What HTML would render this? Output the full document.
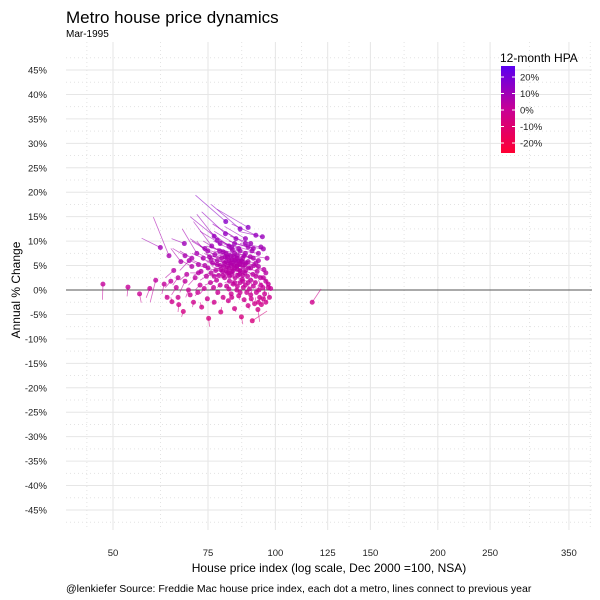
<!DOCTYPE html>
<html><head><meta charset="utf-8"><style>
body{margin:0;background:#fff;}
svg{display:block;font-family:"Liberation Sans",sans-serif;}
</style></head><body>
<svg id="c" width="600" height="600" viewBox="0 0 600 600">
<text x="66" y="23" font-size="17" fill="#000">Metro house price dynamics</text>
<text x="66" y="37" font-size="10" fill="#000">Mar-1995</text>
<g id="grid"></g>
<g id="axes"></g>
<g id="marks"></g>
<text x="329" y="572" font-size="12" text-anchor="middle" fill="#000">House price index (log scale, Dec 2000 =100, NSA)</text>
<text x="20" y="290" font-size="12" text-anchor="middle" fill="#000" transform="rotate(-90 20 290)">Annual % Change</text>
<text x="66" y="592" font-size="10.5" fill="#000">@lenkiefer Source: Freddie Mac house price index, each dot a metro, lines connect to previous year</text>
<g id="legend">
<text x="500" y="62" font-size="12" fill="#000">12-month HPA</text>
<defs><linearGradient id="lg" x1="0" y1="0" x2="0" y2="1"><stop offset="0" stop-color="#5a00f0"/><stop offset="0.5" stop-color="#c80096"/><stop offset="1" stop-color="#ff0032"/></linearGradient></defs>
<rect x="501" y="66" width="14" height="87" fill="url(#lg)"/>
</g>
</svg>
<script>
const hpi=[47.9,53.3,56.0,58.5,60.0,61.2,62.2,63.0,63.5,64.3,64.8,65.5,66.0,66.2,66.8,67.5,67.8,68.0,68.5,69.0,69.2,69.5,70.0,70.5,71.0,71.5,71.8,72.0,72.5,72.8,73.0,73.5,73.8,74.0,74.5,74.8,75.0,75.2,75.5,75.8,76.0,76.2,76.5,76.8,77.0,77.2,77.5,77.8,78.0,78.0,78.2,78.5,78.8,79.0,79.0,79.2,79.5,79.8,80.0,80.0,80.2,80.5,80.8,80.9,81.0,81.2,81.5,81.5,81.8,82.0,82.0,82.2,82.5,82.5,82.8,83.0,83.0,83.2,83.5,83.5,83.8,84.0,84.0,84.2,84.5,84.5,84.8,85.0,85.0,85.2,85.5,85.5,85.8,86.0,86.0,86.2,86.5,86.5,86.8,87.0,87.2,87.5,87.5,87.8,88.0,88.0,88.2,88.5,88.8,89.0,89.0,89.2,89.5,89.8,90.0,90.2,90.5,90.6,90.8,91.0,91.2,91.5,91.8,92.0,92.2,92.5,92.8,93.0,93.2,93.5,93.8,94.0,94.2,94.6,94.8,95.0,95.2,95.5,96.0,96.5,97.0,97.5,98.0,117.0,80.5,81.5,82.8,83.8,84.8,85.5,86.8,82.2,85.8,79.2,87.8,80.8,
81,82,83,84,85,86,87,88,84,83,85,86,87,82,80,81,83,84,86,88,89,90,91,92,93,94,95,96,95,96,97,93,90,89,87,86,85,84,83,82,78,77,76,74,72,70,68,66,64,88,90,91,79,77,75,92,89,93];
const chg=[1.2,0.6,-0.8,0.3,2.0,8.7,1.2,-1.5,7.0,-2.4,4.0,0.5,2.5,-3.0,5.8,-4.4,9.5,1.8,3.2,0.0,6.0,-1.0,4.8,-2.5,2.5,7.5,-0.5,5.2,1.0,3.8,-3.5,6.5,0.3,8.5,2.8,-1.8,4.5,-5.8,6.8,1.5,3.5,9.0,5.5,0.5,-2.5,7.2,4.0,2.0,10.2,6.0,-0.5,3.0,8.0,5.0,1.0,-4.5,6.5,3.8,7.8,-1.5,4.8,2.5,11.5,14.0,5.8,0.8,6.8,3.5,-2.2,9.0,4.5,1.8,7.0,5.5,-0.8,3.2,6.2,8.2,4.0,1.2,5.0,-3.8,7.5,2.5,5.8,10.5,0.0,4.2,6.5,3.0,-1.2,8.5,5.2,1.5,12.5,3.8,6.0,-5.5,2.2,4.8,0.5,7.0,-2.0,3.5,9.5,1.0,5.5,-0.5,2.8,12.8,-3.2,4.5,0.2,6.8,2.0,-1.8,8.0,-6.3,3.2,0.8,5.0,-2.8,1.5,11.2,-0.5,3.8,-4.0,6.0,0.0,-1.5,2.5,8.8,-3.0,10.9,0.5,8.4,4.2,-0.8,1.8,6.5,0.5,-1.5,0.3,-2.5,5.5,4.8,5.0,6.8,4.8,6.0,5.8,2.8,3.2,4.2,5.2,6.8,
4,6,5.5,4.5,5,4,6.5,4,6,3.8,7,5.5,3,3.5,3,7.5,8.8,9.5,8,7.5,5.8,4.5,6.5,2.8,4.8,1,-1.8,-2.5,2.5,3.5,1.2,-2.5,-1,1.5,1.8,-0.5,0.8,1.5,-1.5,0.2,5.2,2.8,6.2,5,3.5,6.5,7,-1.5,1.8,10.5,9.5,8.5,9.5,11,8,5.5,8.8,7.5];
const prevHpi=[47.8,53.1,56.4,57.6,58.6,56.5,61.6,62.5,59.4,64.0,62.5,64.2,64.5,66.0,64.0,67.0,64.2,66.5,66.5,68.2,66.5,68.8,67.0,70.2,69.0,67.2,71.0,69.5,71.0,70.5,72.5,70.0,72.5,69.5,72.5,74.2,72.0,75.5,71.5,74.0,73.5,70.5,72.8,75.5,76.5,72.5,74.5,76.0,71.5,73.8,77.8,76.2,73.5,75.5,78.0,79.5,75.0,77.0,74.5,80.5,76.8,78.5,73.0,71.1,76.5,80.5,76.0,78.8,82.0,75.5,78.5,80.5,77.0,78.2,82.5,80.5,78.0,76.8,80.2,82.5,79.8,84.5,78.0,82.0,80.0,76.5,84.5,81.5,79.5,82.5,85.8,79.0,81.5,84.5,76.0,83.0,81.5,87.0,85.0,83.0,86.5,81.5,88.0,84.8,80.5,87.0,83.5,88.5,86.2,78.0,89.5,85.0,89.0,84.0,88.0,90.8,84.0,96.5,87.8,90.0,86.5,92.0,90.0,83.0,92.0,88.5,93.5,87.5,92.8,94.0,91.0,86.0,95.0,85.5,94.0,87.5,91.0,95.5,94.0,90.0,96.0,97.0,97.2,121.5,77.0,78.0,79.2,78.8,81.0,80.8,82.2,80.0,83.2,76.2,83.8,76.0,
78,77.5,79,80.5,81,82.5,81.5,84.5,79,80,79.5,81.5,84.5,79.2,77.8,75.5,76.5,77,80,82,84.5,86,85.5,89.5,88.8,93,96,97,92.5,92.5,95.5,94,90.5,88,85.5,86,84.5,83,83.5,82,74.5,75,71.8,70.5,69.5,66.5,64.5,66,62.5,80.5,82.5,84,72.5,69.5,70,87.5,82,86.5];
const prevChg=[-2.0,-1.3,-2.6,-1.6,-2.5,10.6,-0.8,-1.0,14.9,-1.5,2.5,-1.0,1.0,-4.5,8.5,-5.5,10.5,-0.5,2.0,-1.5,4.0,-0.5,6.0,-3.5,1.0,12.5,-1.2,6.0,0.0,3.0,-2.5,7.5,-0.8,10.5,2.0,-2.0,5.0,-7.5,10.0,1.0,3.0,14.0,6.5,0.0,-3.0,9.0,4.5,1.5,15.5,7.5,-1.0,3.0,10.0,5.5,0.5,-3.5,7.0,4.0,9.0,-2.0,5.5,2.5,16.0,19.4,7.0,0.5,8.0,3.8,-2.5,12.0,5.0,1.5,8.0,6.0,-1.0,3.5,6.8,10.0,4.5,1.0,5.5,-4.5,8.5,2.8,6.5,13.5,0.5,4.5,8.0,3.5,-2.0,10.0,5.5,1.8,17.5,4.2,7.0,-7.0,2.5,5.5,0.8,8.5,-2.5,4.0,12.0,1.5,6.0,0.0,3.5,16.5,-4.0,5.0,1.0,7.5,2.5,-2.5,9.0,-4.3,4.0,1.5,5.5,-1.5,2.5,13.5,0.5,4.5,-6.5,7.0,1.0,-2.0,3.5,9.5,-1.5,12.0,1.5,9.0,5.0,0.5,3.0,7.0,2.0,-0.5,1.5,0.2,6.2,5.2,5.8,7.5,5.3,6.8,6.5,3.2,3.6,4.8,5.8,7.5,
4.5,7,6,5,5.5,4.5,7.5,4.5,7,4.2,8,6,3.5,4,3.2,9,11,12,9.5,8.5,6.5,5,7,3.5,5.5,2,-1,-1.8,3.2,4.5,2.5,-1.2,0,2,2.2,0.2,1,2,-1.8,0.5,5.8,3,7.5,6,3.5,8,8.5,-2,0.5,13,11,9.5,12,15,10,6,10,8];

const xTicks=[50,75,100,125,150,200,250,350];
const yTicks=[-45,-40,-35,-30,-25,-20,-15,-10,-5,0,5,10,15,20,25,30,35,40,45];
const legendVals=[20,10,0,-10,-20];

const NS="http://www.w3.org/2000/svg";
const L=66,R=592,T=42,B=530;
function X(v){return 113+234.3*Math.log(v/50);}
function Y(v){return 290-v*4.889;}
function mk(tag,at,parent){const e=document.createElementNS(NS,tag);for(const k in at)e.setAttribute(k,at[k]);parent.appendChild(e);return e;}
function col(c){
  let t=Math.max(-25,Math.min(25,c))/25;
  const lo=[255,0,50],mid=[200,0,150],hi=[90,0,240];
  let a,b,f; if(t<0){a=mid;b=lo;f=-t;}else{a=mid;b=hi;f=t;}
  return "rgb("+a.map((v,i)=>Math.round(v+(b[i]-v)*f)).join(",")+")";
}
const grid=document.getElementById('grid'),axes=document.getElementById('axes'),marks=document.getElementById('marks');
for(const t of yTicks){
  const g=mk('line',{x1:L,x2:R,y1:Y(t),y2:Y(t),stroke:'#e6e6e6','stroke-width':1},grid);
  
  
  const m=mk('line',{x1:L,x2:R,y1:Y(t+2.5),y2:Y(t+2.5),stroke:'#e3e3e3','stroke-width':1,'stroke-dasharray':'1 3'},grid);
  
  
  const lb=mk('text',{x:47,y:Y(t)+3.5,'font-size':9.5,'text-anchor':'end',fill:'#222'},axes);
  lb.textContent=t+'%';
  
  
}
const mm=mk('line',{x1:L,x2:R,y1:Y(-47.5),y2:Y(-47.5),stroke:'#e3e3e3','stroke-width':1,'stroke-dasharray':'1 3'},grid);


const xs=[40].concat(xTicks).concat([420]);
for(let i=0;i<xs.length-1;i++){
  const mv=Math.sqrt(xs[i]*xs[i+1]);
  if(X(mv)>L&&X(mv)<R){
    const m=mk('line',{x1:X(mv),x2:X(mv),y1:T,y2:B,stroke:'#e3e3e3','stroke-width':1,'stroke-dasharray':'1 3'},grid);
    
    
  }
}
for(const t of xTicks){
  const g=mk('line',{x1:X(t),x2:X(t),y1:T,y2:B,stroke:'#e6e6e6','stroke-width':1},grid);
  
  
  const lb=mk('text',{x:X(t),y:556,'font-size':9.5,'text-anchor':'middle',fill:'#222'},axes);
  lb.textContent=t;
  
  
}
const z=mk('line',{x1:L,x2:R,y1:Y(0),y2:Y(0),stroke:'#555','stroke-width':1},axes);


for(let i=0;i<hpi.length;i++){
  const s=mk('line',{x1:X(prevHpi[i]),y1:Y(prevChg[i]),x2:X(hpi[i]),y2:Y(chg[i]),stroke:col(chg[i]),'stroke-opacity':0.6,'stroke-width':0.8},marks);
  
  
}
for(let i=0;i<hpi.length;i++){
  const c=mk('circle',{cx:X(hpi[i]),cy:Y(chg[i]),r:2.5,fill:col(chg[i]),'fill-opacity':0.8},marks);
  
  
}
const lg=document.getElementById('legend');
for(const v of legendVals){
  const y=110-v*1.65;
  mk('line',{x1:501,x2:504,y1:y,y2:y,stroke:'#fff','stroke-width':1},lg);
  mk('line',{x1:512,x2:515,y1:y,y2:y,stroke:'#fff','stroke-width':1},lg);
  const t=mk('text',{x:520,y:y+3.5,'font-size':9.5,fill:'#222'},lg);
  t.textContent=v+'%';
  
  
}
</script>
</body></html>
